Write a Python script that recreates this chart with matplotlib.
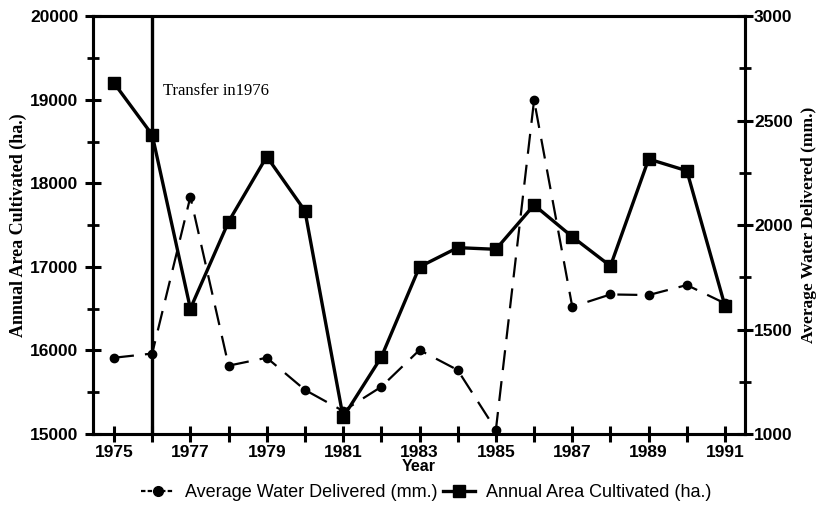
import matplotlib
matplotlib.use("Agg")
import matplotlib.pyplot as plt
from matplotlib.ticker import MultipleLocator, FixedLocator
from matplotlib.lines import Line2D

years = list(range(1975, 1992))
area_cultivated = [19200, 18580, 16500, 17540, 18320, 17670, 15200, 15920,
                   17000, 17230, 17210, 17740, 17360, 17010, 18290, 18150, 16530]
water_delivered = [1365, 1385, 2135, 1327, 1365, 1211, 1110, 1226,
                   1402, 1306, 1020, 2598, 1609, 1668, 1665, 1713, 1625]
transfer_year = 1976
xtick_labels = ["1975", "1977", "1979", "1981", "1983", "1985", "1987", "1989", "1991"]

fig = plt.figure(figsize=(8.2, 5.21), dpi=100)
ax = fig.add_axes([0.1134, 0.167, 0.795, 0.802])
ax2 = ax.twinx()

sans = "Liberation Sans"
serif = "Liberation Serif"

ax.plot(years, area_cultivated, color="black", lw=2.4, marker="s", ms=8.5,
        zorder=5, solid_joinstyle="miter")
ax2.plot(years, water_delivered, color="black", lw=1.6, marker="o", ms=6,
         dashes=(9, 5), zorder=4)

ax.axvline(transfer_year, color="black", lw=2.4)
ax.text(1976.28, 19100, "Transfer in1976", family=serif, fontsize=12, va="center")

ax.set_xlim(1974.45, 1991.52)
ax.set_ylim(15000, 20000)
ax2.set_ylim(1000, 3000)

ax.xaxis.set_major_locator(FixedLocator(years))
ax.set_xticklabels([str(y) if str(y) in xtick_labels else "" for y in years],
                   family=sans, fontsize=12.5, fontweight="bold")
ax.yaxis.set_major_locator(MultipleLocator(1000))
ax.yaxis.set_minor_locator(MultipleLocator(500))
ax2.yaxis.set_major_locator(MultipleLocator(500))
ax2.yaxis.set_minor_locator(MultipleLocator(250))

for a in (ax, ax2):
    for s in a.spines.values():
        s.set_linewidth(2.2)
    for lbl in a.get_yticklabels():
        lbl.set_family(sans)
        lbl.set_fontsize(12.5)
        lbl.set_fontweight("bold")

ax.tick_params(axis="x", which="major", direction="inout", length=12, width=2.2, pad=2)
ax.tick_params(axis="y", which="major", direction="inout", length=11, width=2.2, pad=5)
ax.tick_params(axis="y", which="minor", direction="inout", length=8, width=2.0)
ax2.tick_params(axis="y", which="major", direction="inout", length=11, width=2.2, pad=1)
ax2.tick_params(axis="y", which="minor", direction="inout", length=8, width=2.0)

ax.set_xlabel("Year", family=sans, fontsize=11.5, fontweight="bold", labelpad=-1)
ax.set_ylabel("Annual Area Cultivated (ha.)", family=serif, fontsize=13,
              fontweight="bold", labelpad=2)
ax2.set_ylabel("Average Water Delivered (mm.)", family=serif, fontsize=12.5,
               fontweight="bold", labelpad=6)

handles = [
    Line2D([], [], color="black", lw=1.6, dashes=(2, 1), marker="o", ms=7),
    Line2D([], [], color="black", lw=2.4, marker="s", ms=8),
]
fig.legend(handles, ["Average Water Delivered (mm.)", "Annual Area Cultivated (ha.)"],
           loc="center", bbox_to_anchor=(0.52, 0.055), ncol=2, frameon=False,
           prop={"family": sans, "size": 13}, handlelength=1.8, columnspacing=0.3,
           handletextpad=0.6)

fig.savefig("out.png", dpi=100)
